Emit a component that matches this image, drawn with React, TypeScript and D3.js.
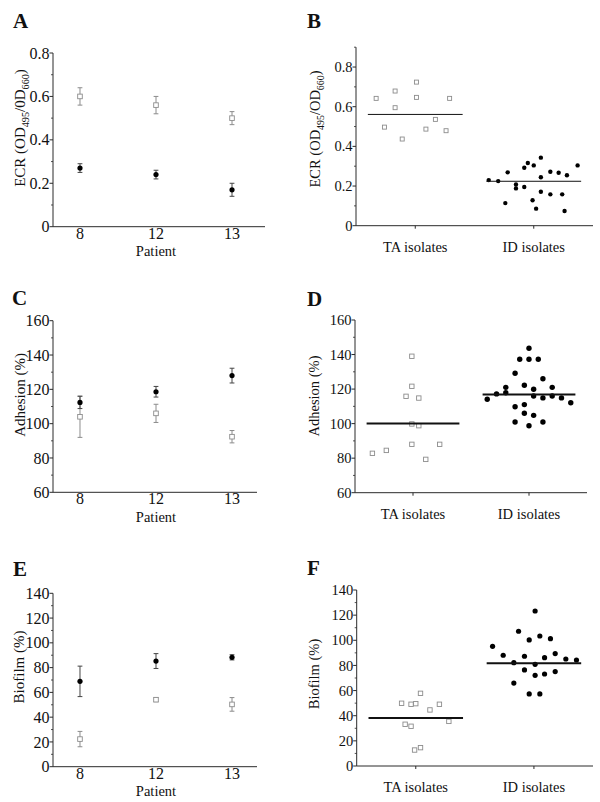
import React from "react";
import * as d3 from "d3";

// ---------- Data ----------
const patients = ["8", "12", "13"];
const groups = ["TA isolates", "ID isolates"];

// Panel A: ECR per patient (mean ± error)
const ecrTAMean = [0.6, 0.56, 0.5];
const ecrTAErr = [0.04, 0.04, 0.03];
const ecrIDMean = [0.27, 0.24, 0.17];
const ecrIDErr = [0.02, 0.02, 0.03];

// Panel C: Adhesion per patient
const adhTAMean = [104, 106, 92.4];
const adhTAErr = [12, 5.3, 3.6];
const adhIDMean = [112.4, 118.6, 128];
const adhIDErr = [3.6, 3.1, 4.3];

// Panel E: Biofilm per patient
const bioTAMean = [22.3, 54.1, 50.3];
const bioTAErr = [6.2, 1.6, 5.5];
const bioIDMean = [68.9, 85.3, 88.3];
const bioIDErr = [12.3, 6.0, 2.1];

// Panel B: ECR isolates (jitter in category units, value)
const ecrTAJitter = [-0.33, -0.26, -0.17, -0.17, -0.11, 0.01, 0.01, 0.09, 0.17, 0.26, 0.29];
const ecrTAValues = [0.642, 0.497, 0.679, 0.595, 0.437, 0.647, 0.724, 0.487, 0.536, 0.479, 0.642];
const ecrIDJitter = [-0.38, -0.3, -0.24, -0.22, -0.15, -0.15, -0.08, -0.08, -0.05, -0.01, 0.0, 0.02, 0.06, 0.06, 0.06, 0.14, 0.14, 0.21, 0.24, 0.26, 0.28, 0.37];
const ecrIDValues = [0.23, 0.225, 0.114, 0.269, 0.208, 0.188, 0.292, 0.195, 0.316, 0.128, 0.304, 0.086, 0.343, 0.244, 0.171, 0.272, 0.158, 0.267, 0.158, 0.074, 0.254, 0.304];
const ecrGroupMeans = [0.561, 0.224];

// Panel D: Adhesion isolates
const adhTAJitter = [-0.35, -0.23, -0.06, -0.01, -0.01, -0.01, -0.01, 0.05, 0.05, 0.11, 0.23];
const adhTAValues = [82.8, 84.5, 115.8, 139.0, 121.6, 99.8, 88.0, 114.8, 98.8, 79.3, 88.0];
const adhIDJitter = [0, -0.08, 0, 0.08, -0.12, 0.12, -0.04, -0.2, 0.04, 0.2, -0.28, -0.2, 0.04, 0.12, 0.2, 0.28, -0.36, 0.36, -0.12, -0.04, -0.04, 0.04, -0.12, 0, 0.12];
const adhIDValues = [143.6, 137.3, 137.3, 137.3, 129.2, 126.0, 122.2, 121.0, 119.9, 121.0, 117.2, 117.9, 116.0, 114.9, 116.0, 114.9, 114.1, 112.1, 109.8, 111.0, 106.0, 104.8, 100.9, 98.8, 100.9];
const adhGroupMeans = [100.0, 116.9];

// Panel F: Biofilm isolates
const bioTAJitter = [-0.12, -0.04, 0.0, 0.04, 0.12, 0.2, 0.28, -0.09, -0.04, -0.01, 0.04];
const bioTAValues = [49.9, 49.1, 49.6, 57.8, 44.6, 49.1, 35.5, 33.2, 31.6, 12.7, 14.6];
const bioIDJitter = [-0.35, -0.26, -0.17, -0.17, -0.13, -0.08, -0.08, -0.04, -0.04, 0.01, 0.01, 0.01, 0.05, 0.05, 0.09, 0.09, 0.14, 0.18, 0.18, 0.27, 0.36];
const bioIDValues = [95.2, 88.1, 82.2, 66.0, 107.2, 87.3, 76.4, 100.3, 57.3, 123.3, 80.9, 72.1, 103.4, 57.3, 86.2, 73.2, 101.3, 89.4, 75.1, 85.1, 84.3];
const bioGroupMeans = [38.2, 81.7];

// Ticks
const ecrTicksA = [0, 0.2, 0.4, 0.6, 0.8];
const ecrTicksB = [0, 0.2, 0.4, 0.6, 0.8];
const adhTicks = [60, 80, 100, 120, 140, 160];
const bioTicks = [0, 20, 40, 60, 80, 100, 120, 140];

type Part = { t: string; sub?: boolean };
const ecrTitleA: Part[] = [{ t: "ECR (OD" }, { t: "495", sub: true }, { t: "/0D" }, { t: "660", sub: true }, { t: ")" }];
const ecrTitleB: Part[] = [{ t: "ECR (OD" }, { t: "495", sub: true }, { t: "/OD" }, { t: "660", sub: true }, { t: ")" }];
const adhTitle: Part[] = [{ t: "Adhesion (%)" }];
const bioTitle: Part[] = [{ t: "Biofilm (%)" }];

// ---------- Style ----------
const FONT = "'Liberation Serif', 'Times New Roman', serif";
const AXIS = "#2a2a2a";
const GRAY = "#8c8c8c";

const fmtDec = (d: number) => (d === 0 ? "0" : d3.format(".1f")(d));
const fmtInt = (d: number) => d3.format("d")(d);

function Title({ x, y, parts, fs }: { x: number; y: number; parts: Part[]; fs: number }) {
  const shift = fs * 0.28;
  let prevSub = false;
  return (
    <text transform={`translate(${x},${y}) rotate(-90)`} textAnchor="middle" fontSize={fs} fill="#111">
      {parts.map((p, i) => {
        let dy = 0;
        if (p.sub && !prevSub) dy = shift;
        if (!p.sub && prevSub) dy = -shift;
        prevSub = !!p.sub;
        return (
          <tspan key={i} dy={dy} fontSize={p.sub ? fs * 0.68 : fs}>
            {p.t}
          </tspan>
        );
      })}
    </text>
  );
}

function YAxis({ y, x, ticks, minorStep, fmt, fs, top }: any) {
  const [d0, d1] = y.domain();
  const minors = d3.range(d0, d1 + minorStep / 2, minorStep).filter((m: number) => !ticks.some((t: number) => Math.abs(t - m) < minorStep / 10));
  return (
    <g>
      <line x1={x} x2={x} y1={top} y2={y(d0)} stroke={AXIS} strokeWidth={1} />
      {ticks.map((t: number) => (
        <g key={"t" + t}>
          <line x1={x - 3.5} x2={x} y1={y(t)} y2={y(t)} stroke={AXIS} strokeWidth={1} />
          <text x={x - 3.5} y={y(t)} dy="0.35em" textAnchor="end" fontSize={fs} fill="#111">
            {fmt(t)}
          </text>
        </g>
      ))}
      {minors.map((m: number) => (
        <line key={"m" + m} x1={x - 2} x2={x} y1={y(m)} y2={y(m)} stroke={AXIS} strokeWidth={0.8} />
      ))}
    </g>
  );
}

function Square({ cx, cy, s }: { cx: number; cy: number; s: number }) {
  return <rect x={cx - s / 2} y={cy - s / 2} width={s} height={s} fill="#fff" stroke={GRAY} strokeWidth={0.9} />;
}

function LeftPanel(props: any) {
  const { letter, letterPos, top, bottom, axisEnd, yDomain, ticks, minorStep, fmt, title, titlePos, taMean, taErr, idMean, idErr } = props;
  const left = 53;
  const y = d3.scaleLinear().domain(yDomain).range([bottom, top]);
  const x = d3.scalePoint<string>().domain(patients).range([left, 259]).padding(0.355);
  const cap = 2.4;
  return (
    <g>
      <text x={letterPos[0]} y={letterPos[1]} fontSize={21} fontWeight="bold" fill="#111">
        {letter}
      </text>
      <Title x={titlePos[0]} y={titlePos[1]} parts={title} fs={15} />
      <YAxis y={y} x={left} ticks={ticks} minorStep={minorStep} fmt={fmt} fs={16} top={top} />
      <line x1={left} x2={axisEnd} y1={bottom} y2={bottom} stroke={AXIS} strokeWidth={1} />
      {patients.map((p) => (
        <text key={p} x={x(p)} y={bottom + 12} textAnchor="middle" fontSize={16} fill="#111">
          {p}
        </text>
      ))}
      <text x={(left + 259) / 2} y={bottom + 29.5} textAnchor="middle" fontSize={14.5} fill="#111">
        Patient
      </text>
      {/* TA (squares) */}
      {patients.map((p, i) => {
        const cx = x(p) as number;
        const hi = y(taMean[i] + taErr[i]);
        const lo = y(taMean[i] - taErr[i]);
        return (
          <g key={"ta" + p}>
            <line x1={cx} x2={cx} y1={hi} y2={lo} stroke={GRAY} strokeWidth={1} />
            <line x1={cx - cap} x2={cx + cap} y1={hi} y2={hi} stroke={GRAY} strokeWidth={1} />
            <line x1={cx - cap} x2={cx + cap} y1={lo} y2={lo} stroke={GRAY} strokeWidth={1} />
            <Square cx={cx} cy={y(taMean[i])} s={4.6} />
          </g>
        );
      })}
      {/* ID (circles) */}
      {patients.map((p, i) => {
        const cx = x(p) as number;
        const hi = y(idMean[i] + idErr[i]);
        const lo = y(idMean[i] - idErr[i]);
        return (
          <g key={"id" + p}>
            <line x1={cx} x2={cx} y1={hi} y2={lo} stroke="#444" strokeWidth={1} />
            <line x1={cx - cap} x2={cx + cap} y1={hi} y2={hi} stroke="#444" strokeWidth={1} />
            <line x1={cx - cap} x2={cx + cap} y1={lo} y2={lo} stroke="#444" strokeWidth={1} />
            <circle cx={cx} cy={y(idMean[i])} r={2.6} fill="#000" />
          </g>
        );
      })}
    </g>
  );
}

function RightPanel(props: any) {
  const { letter, letterPos, left, right, top, bottom, yDomain, ticks, minorStep, fmt, title, titlePos, taJ, taV, idJ, idV, means, meanWidth, sq, r } = props;
  const y = d3.scaleLinear().domain(yDomain).range([bottom, top]);
  const x = d3.scaleLinear().domain([0.5, 2.5]).range([left, right]);
  const half = 0.4;
  return (
    <g>
      <text x={letterPos[0]} y={letterPos[1]} fontSize={21} fontWeight="bold" fill="#111">
        {letter}
      </text>
      <Title x={titlePos[0]} y={titlePos[1]} parts={title} fs={14.5} />
      <YAxis y={y} x={left} ticks={ticks} minorStep={minorStep} fmt={fmt} fs={14.5} top={top} />
      <line x1={left} x2={right} y1={bottom} y2={bottom} stroke={AXIS} strokeWidth={1} />
      {groups.map((g, i) => (
        <g key={g}>
          <line x1={x(i + 1)} x2={x(i + 1)} y1={bottom} y2={bottom + 3} stroke={AXIS} strokeWidth={1} />
          <text x={x(i + 1)} y={bottom + 26} textAnchor="middle" fontSize={14.5} fill="#111">
            {g}
          </text>
        </g>
      ))}
      {taV.map((v: number, i: number) => (
        <Square key={"s" + i} cx={x(1 + taJ[i])} cy={y(v)} s={sq} />
      ))}
      {idV.map((v: number, i: number) => (
        <circle key={"c" + i} cx={x(2 + idJ[i])} cy={y(v)} r={r} fill="#000" />
      ))}
      {means.map((m: number, i: number) => (
        <line key={"m" + i} x1={x(i + 1 - half)} x2={x(i + 1 + half)} y1={y(m)} y2={y(m)} stroke="#111" strokeWidth={meanWidth} />
      ))}
    </g>
  );
}

export default function App() {
  return (
    <svg width={600} height={802} style={{ position: "absolute", left: 0, top: 0, background: "#fff" }} fontFamily={FONT}>
      <rect width={600} height={802} fill="#fff" />
      <LeftPanel
        letter="A" letterPos={[13, 28]} top={53} bottom={226.7} axisEnd={265}
        yDomain={[0, 0.8]} ticks={ecrTicksA} minorStep={0.1} fmt={fmtDec}
        title={ecrTitleA} titlePos={[25, 128]}
        taMean={ecrTAMean} taErr={ecrTAErr} idMean={ecrIDMean} idErr={ecrIDErr}
      />
      <RightPanel
        letter="B" letterPos={[307, 28]} left={356} right={593} top={47.2} bottom={225.7}
        yDomain={[0, 0.9]} ticks={ecrTicksB} minorStep={0.1} fmt={fmtDec}
        title={ecrTitleB} titlePos={[319.5, 129]}
        taJ={ecrTAJitter} taV={ecrTAValues} idJ={ecrIDJitter} idV={ecrIDValues}
        means={ecrGroupMeans} meanWidth={1} sq={4} r={2.2}
      />
      <LeftPanel
        letter="C" letterPos={[12, 305]} top={320.7} bottom={492.3} axisEnd={257}
        yDomain={[60, 160]} ticks={adhTicks} minorStep={10} fmt={fmtInt}
        title={adhTitle} titlePos={[25, 395]}
        taMean={adhTAMean} taErr={adhTAErr} idMean={adhIDMean} idErr={adhIDErr}
      />
      <RightPanel
        letter="D" letterPos={[307, 306]} left={355} right={587} top={320} bottom={492.7}
        yDomain={[60, 160]} ticks={adhTicks} minorStep={10} fmt={fmtInt}
        title={adhTitle} titlePos={[318.5, 396]}
        taJ={adhTAJitter} taV={adhTAValues} idJ={adhIDJitter} idV={adhIDValues}
        means={adhGroupMeans} meanWidth={2} sq={4.4} r={2.7}
      />
      <LeftPanel
        letter="E" letterPos={[13, 576]} top={593.3} bottom={766.7} axisEnd={257}
        yDomain={[0, 140]} ticks={bioTicks} minorStep={10} fmt={fmtInt}
        title={bioTitle} titlePos={[24, 667]}
        taMean={bioTAMean} taErr={bioTAErr} idMean={bioIDMean} idErr={bioIDErr}
      />
      <RightPanel
        letter="F" letterPos={[307, 575]} left={356.7} right={593} top={590} bottom={766}
        yDomain={[0, 140]} ticks={bioTicks} minorStep={10} fmt={fmtInt}
        title={bioTitle} titlePos={[319, 674]}
        taJ={bioTAJitter} taV={bioTAValues} idJ={bioIDJitter} idV={bioIDValues}
        means={bioGroupMeans} meanWidth={2} sq={4.4} r={2.6}
      />
    </svg>
  );
}
